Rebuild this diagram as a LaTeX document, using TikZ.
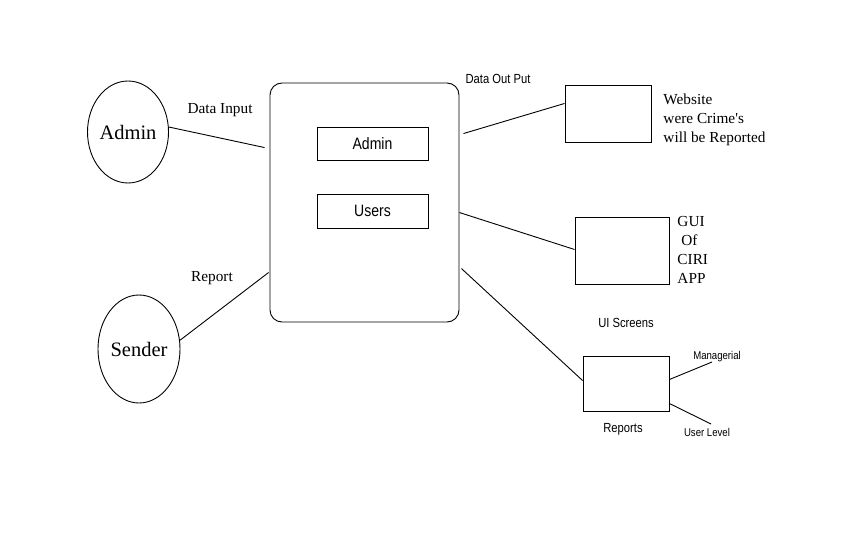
\documentclass[tikz,border=0pt]{standalone}
\usepackage{fontspec}
\setmainfont{Liberation Serif}
\setsansfont{Liberation Sans}
\newfontfamily\narrowsans[FakeStretch=0.85]{Liberation Sans}
\usetikzlibrary{shapes.geometric}

\begin{document}
\begin{tikzpicture}[x=1pt,y=-1pt,line width=0.9pt,
  actor node/.style={ellipse,draw,inner sep=0pt,minimum width=81pt,font=\fontsize{20.5}{24}\selectfont},
  part node/.style={rectangle,draw,inner sep=0pt,minimum width=111pt,minimum height=33pt,font=\narrowsans\fontsize{16.5}{18}\selectfont},
  out node/.style={rectangle,draw,inner sep=0pt},
  note/.style={inner sep=0pt,font=\fontsize{15.3}{19}\selectfont,align=left},
  sans note/.style={inner sep=0pt,font=\narrowsans\fontsize{13.2}{15}\selectfont},
  small note/.style={inner sep=0pt,font=\narrowsans\fontsize{11.3}{13}\selectfont}]
  \useasboundingbox (0,0) rectangle (845,534);

  \node[actor node,minimum height=102pt] (admin) at (128,132) {Admin};
  \node[actor node,minimum height=108pt,minimum width=82pt] (sender) at (139,349) {Sender};

  \node[draw,rounded corners=12pt,minimum width=189pt,minimum height=239pt] (main) at (364.5,202.5) {};
  \node[part node] (padmin) at (372.5,143.5) {Admin};
  \node[part node,minimum height=34pt] (pusers) at (372.5,211) {Users};

  \node[out node,minimum width=86pt,minimum height=57pt] (web) at (608,113.5) {};
  \node[out node,minimum width=94pt,minimum height=67pt] (gui) at (622,250.5) {};
  \node[out node,minimum width=86pt,minimum height=55pt] (rep) at (626,383.5) {};

  \coordinate (in1) at ([xshift=-5pt,yshift=-65pt]main.north west);
  \coordinate (in2) at ([xshift=-1pt,yshift=-190pt]main.north west);
  \coordinate (out1) at ([xshift=4pt,yshift=-51pt]main.north east);
  \coordinate (out2) at ([yshift=-130pt]main.north east);
  \coordinate (out3) at ([xshift=2pt,yshift=-186pt]main.north east);
  \coordinate (manager) at (712,362);
  \coordinate (userlvl) at (711,424);

  \node[note,anchor=base] (datain) at (220,114) {Data Input};
  \node[note,anchor=base] (report) at (212,282) {Report};
  \node[sans note,anchor=base] (dataout) at (498,84) {Data Out Put};
  \node[note,anchor=north west] (webtext) at (663,93) {Website\\were Crime\textquotesingle s\\will be Reported};
  \node[note,anchor=north west] (guitext) at (677,216) {GUI\\\ Of\\CIRI\\APP};
  \node[sans note,anchor=base] (uiscr) at (626,327) {UI Screens};
  \node[sans note,anchor=base] (reptext) at (623,432) {Reports};
  \node[small note,anchor=base] (mantext) at (717,359) {Managerial};
  \node[small note,anchor=base] (usrtext) at (707,436) {User Level};

  \path
  (admin.7) edge (in1)
  (sender.12) edge (in2)
  (out1) edge (web.167)
  (out2) edge ([yshift=1pt]gui.west)
  (out3) edge ([yshift=3pt]rep.west)
  ([yshift=4pt]rep.east) edge (manager)
  ([yshift=-20pt]rep.east) edge (userlvl)
  ;
\end{tikzpicture}
\end{document}
